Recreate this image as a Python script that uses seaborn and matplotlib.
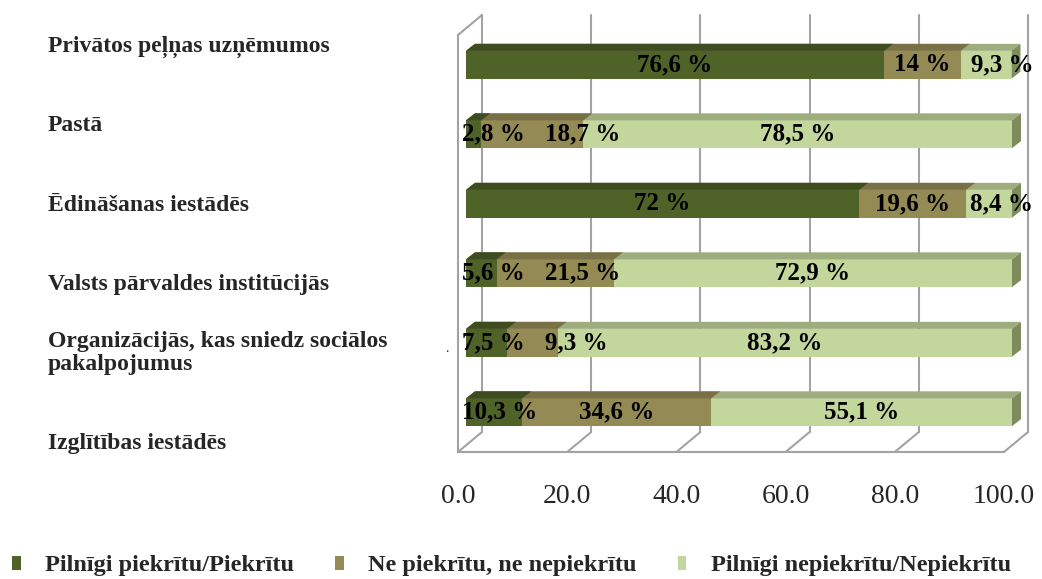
import matplotlib
matplotlib.use("Agg")
import numpy as np
import pandas as pd
import seaborn as sns
import matplotlib.pyplot as plt
from matplotlib.transforms import ScaledTranslation, IdentityTransform
from matplotlib.patches import Polygon, Patch
from matplotlib.lines import Line2D

# ---------------- data ----------------
categories = [
    "Privātos peļņas uzņēmumos",
    "Pastā",
    "Ēdināšanas iestādēs",
    "Valsts pārvaldes institūcijās",
    "Organizācijās, kas sniedz sociālos\npakalpojumus",
    "Izglītības iestādēs",
]
agree = [76.6, 2.8, 72.0, 5.6, 7.5, 10.3]
neutral = [14.0, 18.7, 19.6, 21.5, 9.3, 34.6]
disagree = [9.3, 78.5, 8.4, 72.9, 83.2, 55.1]
series_names = [
    "Pilnīgi piekrītu/Piekrītu",
    "Ne piekrītu, ne nepiekrītu",
    "Pilnīgi nepiekrītu/Nepiekrītu",
]
x_ticks = [0, 20, 40, 60, 80, 100]
x_tick_labels = ["0.0", "20.0", "40.0", "60.0", "80.0", "100.0"]

front_colors = ["#4F6228", "#948A54", "#C3D69B"]
top_colors = ["#3E4D1F", "#7A7045", "#9DAD7D"]
side_color = "#7D8B5D"
grid_color = "#A3A3A3"

# ---------------- figure ----------------
sns.set_style("white")
plt.rcParams["font.family"] = ["Liberation Serif", "DejaVu Serif"]

W, H, DPI = 1042, 579, 100
fig = plt.figure(figsize=(W / DPI, H / DPI), dpi=DPI)
ax = fig.add_axes([458 / W, 1 - 452 / H, 546 / W, 417 / H])

df = pd.DataFrame({"cat": categories, "a": agree, "n": neutral, "d": disagree})
df["c1"] = df["a"]
df["c2"] = df["a"] + df["n"]
df["c3"] = df["a"] + df["n"] + df["d"]

bar_off = ScaledTranslation(8 / DPI, 5 / DPI, fig.dpi_scale_trans)
bar_trans = ax.transData + bar_off
depth = (9, 7)   # pixel depth of bar top/side faces
back = (24, 20)  # pixel depth of the back wall

ax.set_xlim(0, 100)
ax.set_ylim(5.5, -0.5)

groups = [("c3", 2), ("c2", 1), ("c1", 0)]
n_before = 0
bar_groups = {}
for col, si in groups:
    sns.barplot(data=df, x=col, y="cat", order=categories, orient="h",
                color=front_colors[si], saturation=1, width=0.4, ax=ax,
                errorbar=None, linewidth=0, edgecolor="none", zorder=3 + (2 - si))
    new = ax.patches[n_before:]
    n_before = len(ax.patches)
    bar_groups[si] = new
    for p in new:
        p.set_transform(bar_trans)
        p.set_clip_on(False)

ax.set_xlim(0, 100)
ax.set_ylim(5.5, -0.5)

# pseudo-3D faces derived from the drawn bars
for si, patches in bar_groups.items():
    z = 3 + (2 - si) + 0.5
    for p in patches:
        e = p.get_window_extent()
        x0, y0, x1, y1 = e.x0, e.y0, e.x1, e.y1
        top = Polygon([(x0, y1), (x1, y1), (x1 + depth[0], y1 + depth[1]),
                       (x0 + depth[0], y1 + depth[1])], closed=True,
                      facecolor=top_colors[si], edgecolor="none",
                      transform=IdentityTransform(), zorder=z, clip_on=False)
        ax.add_artist(top)
        if si == 2:
            side = Polygon([(x1, y0), (x1, y1), (x1 + depth[0], y1 + depth[1]),
                            (x1 + depth[0], y0 + depth[1])], closed=True,
                           facecolor=side_color, edgecolor="none",
                           transform=IdentityTransform(), zorder=z, clip_on=False)
            ax.add_artist(side)

# back wall gridlines + floor diagonals
for v in x_ticks:
    fb = ax.transData.transform((v, 5.5))
    ft = ax.transData.transform((v, -0.5))
    bb = fb + np.array(back)
    bt = ft + np.array(back)
    ax.add_artist(Line2D([bb[0], bt[0]], [bb[1], bt[1]], color=grid_color, lw=1.5,
                         transform=IdentityTransform(), zorder=1, clip_on=False))
    ax.add_artist(Line2D([fb[0], bb[0]], [fb[1], bb[1]], color=grid_color, lw=1.5,
                         transform=IdentityTransform(), zorder=1, clip_on=False))
ft0 = ax.transData.transform((0, -0.5))
ax.add_artist(Line2D([ft0[0], ft0[0] + back[0]], [ft0[1], ft0[1] + back[1]],
                     color=grid_color, lw=1.5, transform=IdentityTransform(),
                     zorder=1, clip_on=False))

# axes styling
for s in ["top", "right"]:
    ax.spines[s].set_visible(False)
for s in ["left", "bottom"]:
    ax.spines[s].set_color(grid_color)
    ax.spines[s].set_linewidth(1.5)
ax.set_xticks(x_ticks)
ax.set_xticklabels(x_tick_labels, fontsize=20)
ax.set_yticks(np.arange(-0.5, 6.0, 1.0))
ax.set_yticklabels([])
ax.tick_params(axis="x", direction="out", length=6, width=1.5, color=grid_color, pad=17)
ax.tick_params(axis="y", direction="out", length=5, width=1.5, color=grid_color)
ax.set_xlabel("")
ax.set_ylabel("")
ax.grid(False)

# data labels
renderer = fig.canvas.get_renderer()
sx = (ax.transData.transform((100, 0))[0] - ax.transData.transform((0, 0))[0]) / 100
series = [agree, neutral, disagree]
for i in range(len(categories)):
    start = 0.0
    bar_left = bar_trans.transform((0, i))[0]
    prev_right = -1e9
    for si in range(3):
        v = series[si][i]
        lab = f"{v:g}".replace(".", ",") + " %"
        c = start + v / 2
        t = ax.text(c, i, lab, transform=bar_trans, ha="center", va="center",
                    fontsize=18, fontweight="bold", color="black", zorder=10)
        e = t.get_window_extent(renderer)
        need = max(bar_left - 4, prev_right + 20)
        shift = max(0.0, need - e.x0)
        if shift > 0:
            t.set_x(c + shift / sx)
        prev_right = e.x1 + shift
        start += v

# category labels (left column)
for i, cat in enumerate(categories):
    y_px = 52 + i * 79.4
    fig.text(48 / W, 1 - y_px / H, cat, ha="left", va="baseline",
             fontsize=17, fontweight="bold", linespacing=1.1)
fig.text(445 / W, 1 - 352 / H, ".", fontsize=10, ha="left", va="baseline")

# legend
handles = [Patch(facecolor=c, edgecolor="none") for c in front_colors]
leg = fig.legend(handles, series_names, loc="center left", ncol=3,
                 bbox_to_anchor=(12 / W, 1 - 566 / H), frameon=False,
                 prop={"size": 17.5, "weight": "bold"},
                 handlelength=0.35, handleheight=0.5, handletextpad=1.0,
                 columnspacing=1.7, borderpad=0, borderaxespad=0)

fig.savefig("out.png", dpi=DPI)
